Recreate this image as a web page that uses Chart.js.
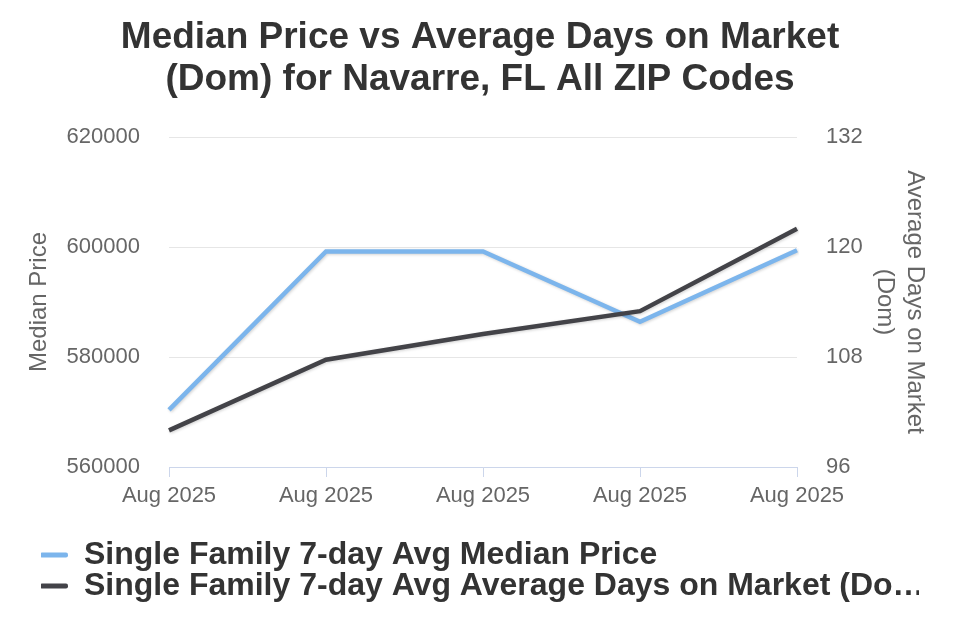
<!DOCTYPE html>
<html>
<head>
<meta charset="utf-8">
<title>Median Price vs Average Days on Market</title>
<script src="https://cdn.jsdelivr.net/npm/chart.js@4/dist/chart.umd.min.js"></script>
<style>
  html, body { margin: 0; padding: 0; background: #fff; }
  #wrap { width: 960px; height: 640px; }
</style>
</head>
<body>
<div id="wrap"><canvas id="chart" width="960" height="640"></canvas></div>
<script>
// Chart data
const dates = ['Aug 2025', 'Aug 2025', 'Aug 2025', 'Aug 2025', 'Aug 2025'];
const medianPrice = [570400, 599200, 599200, 586400, 599400];
const daysOnMarket = [100, 107.7, 110.5, 113, 122];
const priceTicks = [560000, 580000, 600000, 620000];
const domTicks = [96, 108, 120, 132];

const FONT = '"Liberation Sans", Arial, Helvetica, sans-serif';
const LEGEND_MAX = 842;

// soft shadow under each line, like the original
const lineShadow = {
    id: 'lineShadow',
    beforeDatasetDraw(chart) {
        const c = chart.ctx;
        c.save();
        c.shadowColor = 'rgba(0,0,0,0.18)';
        c.shadowBlur = 3;
        c.shadowOffsetX = 1;
        c.shadowOffsetY = 1;
    },
    afterDatasetDraw(chart) {
        chart.ctx.restore();
    }
};

function legendLabels(chart) {
    const items = Chart.defaults.plugins.legend.labels.generateLabels(chart);
    items.sort((a, b) => a.datasetIndex - b.datasetIndex);
    const ctx = chart.ctx;
    ctx.save();
    ctx.font = 'bold 32px ' + FONT;
    items.forEach(it => {
        let t = it.text;
        if (ctx.measureText(t).width > LEGEND_MAX) {
            while (t.length && ctx.measureText(t + '…').width > LEGEND_MAX) t = t.slice(0, -1);
            it.text = t + '…';
        }
        it.lineWidth = 0;
    });
    ctx.restore();
    return items;
}

new Chart(document.getElementById('chart'), {
    type: 'line',
    data: {
        labels: dates,
        datasets: [
            {
                label: 'Single Family 7-day Avg Median Price',
                data: medianPrice,
                yAxisID: 'yPrice',
                borderColor: '#7cb5ec',
                backgroundColor: '#7cb5ec',
                borderWidth: 4.5,
                pointRadius: 0,
                tension: 0,
                order: 1
            },
            {
                label: 'Single Family 7-day Avg Average Days on Market (Dom)',
                data: daysOnMarket,
                yAxisID: 'yDom',
                borderColor: '#434348',
                backgroundColor: '#434348',
                borderWidth: 4.5,
                pointRadius: 0,
                tension: 0,
                order: 0
            }
        ]
    },
    options: {
        responsive: false,
        animation: false,
        layout: { padding: { left: 41, right: 41, top: 0, bottom: 28 } },
        plugins: {
            title: {
                display: true,
                text: ['Median Price vs Average Days on Market', '(Dom) for Navarre, FL All ZIP Codes'],
                color: '#333333',
                font: { family: FONT, size: 37, weight: 'bold', lineHeight: '42px' },
                padding: { top: 17, bottom: 36 }
            },
            legend: {
                position: 'bottom',
                align: 'start',
                labels: {
                    color: '#333333',
                    font: { family: FONT, size: 32, weight: 'bold' },
                    boxWidth: 28,
                    boxHeight: 5,
                    padding: -1,
                    useBorderRadius: true,
                    borderRadius: 2,
                    generateLabels: legendLabels
                }
            },
            tooltip: { enabled: false }
        },
        scales: {
            x: {
                offset: false,
                grid: { drawOnChartArea: false, drawTicks: true, tickLength: 10, color: '#ccd6eb' },
                border: { color: '#ccd6eb' },
                ticks: { color: '#666666', font: { family: FONT, size: 22 }, padding: 6, maxRotation: 0, autoSkip: false },
                afterFit(scale) { scale.height = 73; }
            },
            yPrice: {
                position: 'left',
                min: priceTicks[0],
                max: priceTicks[priceTicks.length - 1],
                afterBuildTicks(scale) { scale.ticks = priceTicks.map(v => ({ value: v })); },
                grid: { color: '#e6e6e6', drawTicks: false },
                border: { display: false },
                ticks: { color: '#666666', font: { family: FONT, size: 22 }, padding: 29, callback: v => String(v) },
                title: {
                    display: true,
                    text: 'Median Price',
                    color: '#666666',
                    font: { family: FONT, size: 24, lineHeight: 1.25 },
                    padding: { top: -17, bottom: 0 }
                },
                afterFit(scale) { scale.width = 128; }
            },
            yDom: {
                position: 'right',
                min: domTicks[0],
                max: domTicks[domTicks.length - 1],
                afterBuildTicks(scale) { scale.ticks = domTicks.map(v => ({ value: v })); },
                grid: { display: false, drawTicks: false },
                border: { display: false },
                ticks: { color: '#666666', font: { family: FONT, size: 22 }, padding: 29, callback: v => String(v) },
                title: {
                    display: true,
                    text: ['Average Days on Market', '(Dom)'],
                    color: '#666666',
                    font: { family: FONT, size: 24, lineHeight: 1.25 },
                    padding: { top: -11, bottom: 0 }
                },
                afterFit(scale) { scale.width = 122; }
            }
        }
    },
    plugins: [lineShadow]
});
</script>
</body>
</html>
